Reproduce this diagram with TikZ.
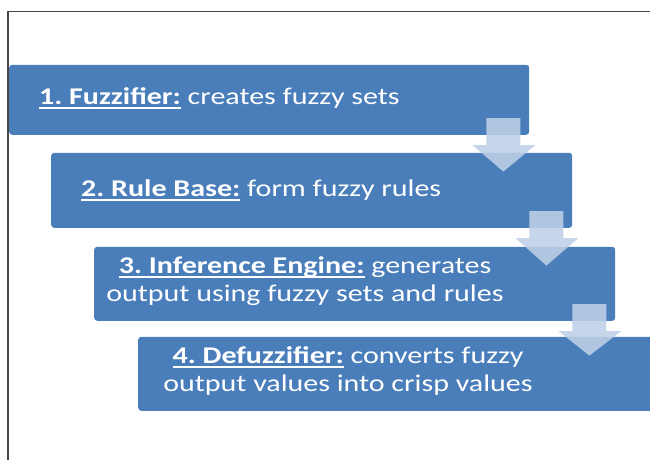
\documentclass[tikz,border=0pt]{standalone}
\usepackage{fontspec}
\setmainfont{Carlito}[FakeStretch=1.25]
\definecolor{boxblue}{RGB}{74,126,187}
\definecolor{arrowblue}{RGB}{190,207,230}
\definecolor{framegray}{RGB}{70,70,70}
\newcommand\myul[1]{\setbox0\hbox{#1}\rlap{\rule[-4.8pt]{\wd0}{1.5pt}}\box0\relax}
\newcommand\hd[1]{\myul{\textbf{#1}}}
\frenchspacing
\tikzset{
  stagebox/.style={fill=boxblue, draw=none, rounded corners=3pt, inner sep=0pt, anchor=south west},
  stagetext/.style={text=white, inner sep=0pt, font=\fontsize{24}{28}\selectfont},
  flowarrow/.style={fill=arrowblue, fill opacity=0.88, draw=none},
  frameline/.style={draw=framegray, line width=1.2pt}
}
\begin{document}
\begin{tikzpicture}[x=1pt,y=1pt]
\useasboundingbox (0,0) rectangle (650,459);
% frame
\coordinate (ftr) at (652,447.5);
\coordinate (ftl) at (8,447.5);
\coordinate (fbl) at (8,-2);
\draw[frameline] (ftr) -- (ftl) -- (fbl);
% boxes
\node[stagebox, minimum width=520pt, minimum height=70pt] (b1) at (9,324) {};
\node[stagebox, minimum width=521pt, minimum height=75pt] (b2) at (51,231) {};
\node[stagebox, minimum width=521pt, minimum height=74pt] (b3) at (94,138) {};
\node[stagebox, minimum width=530pt, minimum height=74pt] (b4) at (138,48) {};
% texts
\node[stagetext, anchor=base west] (t1) at (39,355) {\hd{1. Fuzzifier:} creates fuzzy sets};
\node[stagetext, anchor=base west] (t2) at (81,263) {\hd{2. Rule Base:} form fuzzy rules};
\node[stagetext, anchor=base] (t3a) at (305,186) {\hd{3. Inference Engine:} generates};
\node[stagetext, anchor=base] (t3b) at (305,158) {output using fuzzy sets and rules};
\node[stagetext, anchor=base] (t4a) at (348,96) {\hd{4. Defuzzifier:} converts fuzzy};
\node[stagetext, anchor=base] (t4b) at (348,68) {output values into crisp values};
% arrows from box to box: shaft 34 wide, head 63 wide, head 27 long
\foreach \u/\v in {b1/b2, b2/b3, b3/b4}{
  \path[flowarrow]
    ([shift={(-43,17)}]\u.south east) -- ([shift={(-9,17)}]\u.south east)
    -- ([shift={(-9,-10)}]\u.south east) -- ([shift={(6,-10)}]\u.south east)
    -- ([shift={(-26,-19)}]\u.south east |- \v.north) -- ([shift={(-57,-10)}]\u.south east)
    -- ([shift={(-43,-10)}]\u.south east) -- cycle;
}
\end{tikzpicture}
\end{document}
